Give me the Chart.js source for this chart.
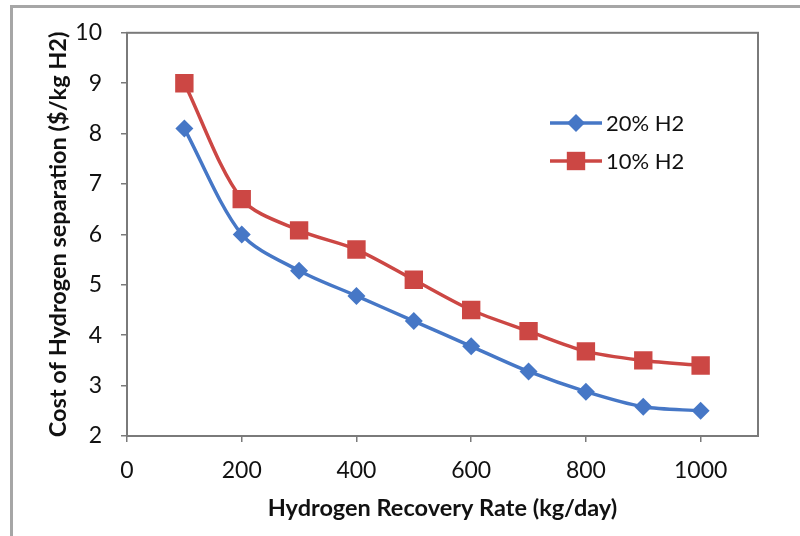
<!DOCTYPE html>
<html>
<head>
<meta charset="utf-8">
<script src="https://cdn.jsdelivr.net/npm/chart.js@4"></script>
<style>
  html, body { margin: 0; padding: 0; background: #fff; }
  #wrap { width: 800px; height: 536px; position: relative; }
</style>
</head>
<body>
<div id="wrap"><canvas id="chart" width="800" height="536"></canvas></div>
<script>
const recoveryRate = [100, 200, 300, 400, 500, 600, 700, 800, 900, 1000];
const cost20 = [8.1, 6.0, 5.28, 4.78, 4.28, 3.78, 3.28, 2.88, 2.58, 2.5];
const cost10 = [9.0, 6.7, 6.08, 5.7, 5.1, 4.5, 4.08, 3.68, 3.5, 3.4];
const seriesLabels = ['20% H2', '10% H2'];
const xTicks = [0, 200, 400, 600, 800, 1000];

const xMin = 0, xMax = 1100;
const yMin = 2, yMax = 10, yStep = 1;

const blue = '#4677c6';
const red = '#cc4744';

function toPoints(xs, ys) {
    return xs.map((x, i) => ({x: x, y: ys[i]}))
}

// grey frame + plot box
const framePlugin = {
    id: 'frame',
    beforeDraw(chart) {
        const c = chart.ctx;
        c.save();
        c.fillStyle = '#fff';
        c.fillRect(0, 0, chart.width, chart.height);
        c.strokeStyle = '#a6a6a6';
        c.lineWidth = 3;
        c.beginPath();
        c.moveTo(11.5, chart.height);
        c.lineTo(11.5, 6.5);
        c.lineTo(chart.width, 6.5);
        c.stroke();
        c.restore();
    },
    afterDatasetsDraw(chart) {
        const a = chart.chartArea;
        const c = chart.ctx;
        c.save();
        c.strokeStyle = '#7a7a7a';
        c.lineWidth = 2;
        c.strokeRect(a.left, a.top, a.right - a.left, a.bottom - a.top);
        c.restore();
    }
};

// legend inside the plot, like excel
const insideLegend = {
    id: 'insideLegend',
    afterDraw(chart) {
        const c = chart.ctx;
        const x0 = 550, x1 = 602, rows = [123, 161];
        c.save();
        chart.data.datasets.forEach((ds, i) => {
            const y = rows[i];
            c.strokeStyle = ds.borderColor;
            c.lineWidth = ds.borderWidth;
            c.beginPath();
            c.moveTo(x0, y);
            c.lineTo(x1, y);
            c.stroke();
            c.fillStyle = ds.backgroundColor;
            Chart.helpers.drawPoint(c, {pointStyle: ds.pointStyle, radius: ds.pointRadius, borderWidth: 0}, (x0 + x1) / 2, y);
            c.fillStyle = '#111';
            c.font = '22px Lato';
            c.textBaseline = 'middle';
            c.fillText(ds.label, 606, y + 1);
        });
        c.restore();
    }
};

const tickFont = {family: 'Lato', size: 23};
const titleFont = {family: 'Lato', size: 23.5, weight: 'bold'};

const ctx = document.getElementById('chart');
new Chart(ctx, {
    type: 'line',
    data: {
        datasets: [
            {
                label: seriesLabels[0],
                data: toPoints(recoveryRate, cost20),
                borderColor: blue,
                backgroundColor: blue,
                borderWidth: 3.5,
                pointStyle: 'rectRot',
                pointRadius: 9,
                pointBorderWidth: 0,
                tension: 0.3
            },
            {
                label: seriesLabels[1],
                data: toPoints(recoveryRate, cost10),
                borderColor: red,
                backgroundColor: red,
                borderWidth: 3.5,
                pointStyle: 'rect',
                pointRadius: 13,
                pointBorderWidth: 0,
                tension: 0.3
            }
        ]
    },
    options: {
        responsive: false,
        animation: false,
        layout: {padding: {left: 0, top: 23, right: 42, bottom: 0}},
        plugins: {legend: {display: false}, tooltip: {enabled: false}},
        scales: {
            x: {
                type: 'linear',
                min: xMin, max: xMax,
                afterBuildTicks: s => { s.ticks = xTicks.map(v => ({value: v})) },
                afterFit: s => { s.height = 100 },
                ticks: {color: '#111', font: tickFont, padding: 15, maxRotation: 0, callback: v => String(v)},
                grid: {drawOnChartArea: false, tickLength: 6, color: '#7a7a7a', lineWidth: 1.5},
                border: {display: true, color: '#7a7a7a', width: 2},
                title: {display: true, text: 'Hydrogen Recovery Rate (kg/day)', color: '#111',
                        font: titleFont, padding: {top: 13, bottom: 13}}
            },
            y: {
                min: yMin, max: yMax,
                afterFit: s => { s.width = 127 },
                ticks: {stepSize: yStep, color: '#111', font: tickFont, padding: 19},
                grid: {drawOnChartArea: false, tickLength: 6, color: '#7a7a7a', lineWidth: 1.5},
                border: {display: true, color: '#7a7a7a', width: 2},
                title: {display: true, text: 'Cost of Hydrogen separation ($/kg H2)', color: '#111',
                        font: titleFont, padding: {top: 44, bottom: 0}}
            }
        }
    },
    plugins: [framePlugin, insideLegend]
});
</script>
</body>
</html>
